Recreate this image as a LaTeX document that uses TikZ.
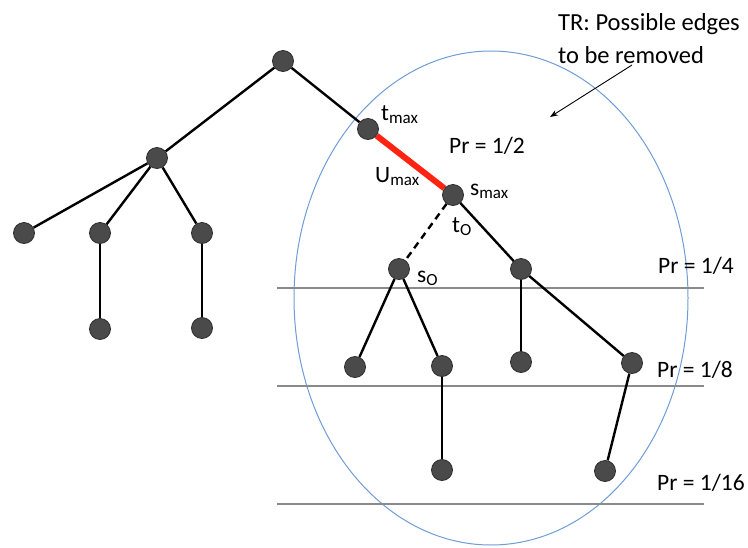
\documentclass[tikz,border=0pt]{standalone}
\usepackage{fontspec}
\setmainfont{Carlito}
\usetikzlibrary{arrows.meta,backgrounds}
\definecolor{nodefill}{HTML}{4A4A4A}
\definecolor{nodeborder}{HTML}{2E2E2E}
\definecolor{edgered}{HTML}{FF2412}
\definecolor{ellblue}{HTML}{6E9DD6}
\definecolor{levelgray}{HTML}{8A8A8A}
\newcommand{\lowsub}[1]{\raisebox{-0.32ex}{\fontsize{17}{17}\selectfont #1}}
\tikzset{
  vert/.style={circle, fill=nodefill, draw=nodeborder, line width=0.8pt, minimum size=21pt, inner sep=0pt},
  edge/.style={line width=2.4pt, black},
  rededge/.style={line width=6pt, edgered},
  dashedge/.style={line width=2.4pt, black, dash pattern=on 7pt off 5pt},
  level/.style={line width=1.3pt, levelgray},
  lbl/.style={inner sep=0pt, anchor=base west, font=\fontsize{23.5}{29}\selectfont},
  trlbl/.style={inner sep=0pt, anchor=base west, font=\fontsize{24.5}{30}\selectfont},
}
\begin{document}
\begin{tikzpicture}[x=1pt,y=-1pt]
\useasboundingbox (0,0) rectangle (748,547);
% vertices
\node[vert] (r) at (283,61) {};
\node[vert] (a) at (157,158) {};
\node[vert] (l1) at (24,233) {};
\node[vert] (l2) at (100,233) {};
\node[vert] (l3) at (202,233) {};
\node[vert] (l2b) at (100,329) {};
\node[vert] (l3b) at (202,328) {};
\node[vert] (tmax) at (368,129) {};
\node[vert] (smax) at (453,195) {};
\node[vert] (so) at (399,269) {};
\node[vert] (b) at (521,269) {};
\node[vert] (so1) at (355,367) {};
\node[vert] (so2) at (442,366) {};
\node[vert] (b1) at (521,362) {};
\node[vert] (b2) at (632,363) {};
\node[vert] (so2b) at (442,470) {};
\node[vert] (b2b) at (605,471) {};
\coordinate (h1a) at (277,288); \coordinate (h1b) at (704,288);
\coordinate (h2a) at (277,386); \coordinate (h2b) at (704,386);
\coordinate (h3a) at (277,504); \coordinate (h3b) at (704,504);
\begin{pgfonlayer}{background}
% ellipse and level lines
\draw[ellblue, line width=1pt] (491,298) ellipse [x radius=197, y radius=247];
\draw[level] (h1a) -- (h1b);
\draw[level] (h2a) -- (h2b);
\draw[level] (h3a) -- (h3b);
% edges
\draw[edge] (r) -- (a);
\draw[edge] (a) -- (l1);
\draw[edge] (a) -- (l2);
\draw[edge] (a) -- (l3);
\draw[edge] (l2) -- (l2b);
\draw[edge] (l3) -- (l3b);
\draw[edge] (r) -- (tmax);
\draw[rededge] (tmax) -- (smax);
\draw[dashedge] (smax) -- (so);
\draw[edge] (smax) -- (b);
\draw[edge] (so) -- (so1);
\draw[edge] (so) -- (so2);
\draw[edge] (so2) -- (so2b);
\draw[edge] (b) -- (b1);
\draw[edge] (b) -- (b2);
\draw[edge] (b2) -- (b2b);
\end{pgfonlayer}
% labels
\node[lbl] (ltmax) at (381,120) {t\lowsub{max}};
\node[lbl] (lumax) at (375,182) {U\lowsub{max}};
\node[lbl] (lsmax) at (470,195) {s\lowsub{max}};
\node[lbl] (lto) at (452,232) {t\lowsub{O}};
\node[lbl] (lso) at (417,282) {s\lowsub{O}};
\node[lbl] (p2) at (449,153) {Pr = 1/2};
\node[lbl] (p4) at (658,273) {Pr = 1/4};
\node[lbl] (p8) at (657,377) {Pr = 1/8};
\node[lbl] (p16) at (657,490) {Pr = 1/16};
\node[trlbl] (tr1) at (558,30) {TR: Possible edges};
\node[trlbl] (tr2) at (558,63) {to be removed};
% arrow
\coordinate (arrs) at (632,65);
\coordinate (arre) at (550,117);
\draw[line width=0.9pt, -{Stealth[length=8pt,width=6pt]}] (arrs) -- (arre);
\end{tikzpicture}
\end{document}
